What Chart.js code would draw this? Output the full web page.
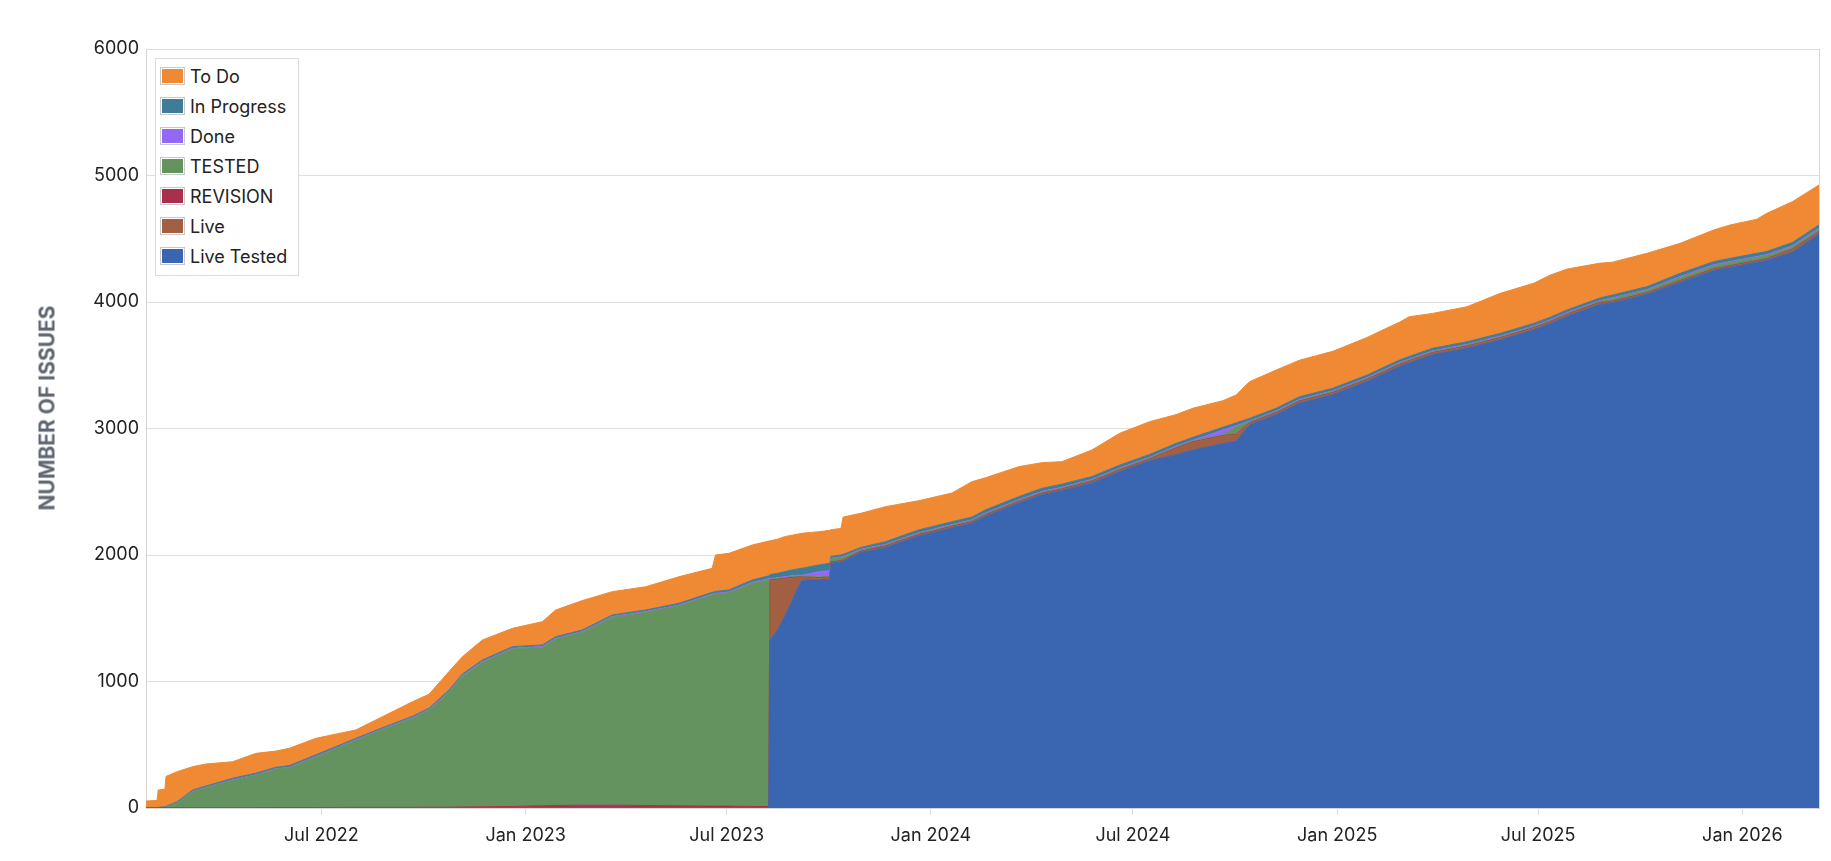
<!DOCTYPE html>
<html>
<head>
<meta charset="utf-8">
<title>Issues by status</title>
<script src="https://cdn.jsdelivr.net/npm/chart.js@4.4.1/dist/chart.umd.min.js"></script>
<style>
  html, body { margin: 0; padding: 0; background: #fff; overflow: hidden; }
  #wrap { position: relative; width: 1831px; height: 861px; font-family: Inter, "Noto Sans", sans-serif; }
  #issuesChart { position: absolute; left: 0; top: 0; }
  #yTitle {
    position: absolute; left: 47px; top: 408px;
    transform: translate(-50%, -50%) rotate(-90deg);
    white-space: nowrap; font-weight: 700; font-size: 21px; color: #5f6670;
  }
  #legend {
    position: absolute; left: 155px; top: 58px; width: 142px;
    padding: 2px 0 4px 0; background: #fff; border: 1px solid #dcdcdc;
  }
  .row { display: flex; align-items: center; height: 30px; padding-left: 4px; }
  .swatch {
    width: 21px; height: 14px; padding: 1px; margin-right: 5px;
    border: 1px solid #c9c9c9; background-clip: content-box;
  }
  .row span { font-size: 18px; color: #222; }
</style>
</head>
<body>
<div id="wrap">
  <canvas id="issuesChart" width="1831" height="861"></canvas>
  <div id="yTitle">NUMBER OF ISSUES</div>
  <div id="legend"></div>
</div>
<script>
// Snapshot dates (cumulative issue counts by status)
const dates = [
  '2022-01-24', '2022-02-03', '2022-02-04', '2022-02-10', '2022-02-11', '2022-02-21', '2022-03-07', '2022-03-19',
  '2022-04-12', '2022-05-03', '2022-05-21', '2022-06-02', '2022-06-26', '2022-08-01', '2022-08-28', '2022-09-21',
  '2022-10-06', '2022-10-24', '2022-11-05', '2022-11-23', '2022-12-20', '2023-01-16', '2023-01-28', '2023-02-21',
  '2023-03-20', '2023-04-19', '2023-05-19', '2023-06-18', '2023-06-21', '2023-07-03', '2023-07-24', '2023-08-08',
  '2023-08-09', '2023-08-16', '2023-08-22', '2023-08-28', '2023-09-03', '2023-09-07', '2023-09-22', '2023-10-02',
  '2023-10-03', '2023-10-12', '2023-10-14', '2023-10-30', '2023-11-21', '2023-12-21', '2024-01-20', '2024-02-07',
  '2024-02-19', '2024-03-20', '2024-04-10', '2024-04-28', '2024-05-25', '2024-06-19', '2024-07-16', '2024-08-09',
  '2024-08-24', '2024-09-20', '2024-10-02', '2024-10-14', '2024-11-07', '2024-11-28', '2024-12-28', '2025-01-28',
  '2025-02-11', '2025-02-26', '2025-03-07', '2025-03-28', '2025-04-28', '2025-05-28', '2025-06-27', '2025-07-12',
  '2025-07-27', '2025-08-25', '2025-09-06', '2025-10-07', '2025-11-06', '2025-12-06', '2025-12-21', '2026-01-14',
  '2026-01-23', '2026-02-15', '2026-03-11'
];

const liveTested = [
  0, 0, 0, 0, 0, 0, 0, 0,
  0, 0, 0, 0, 0, 0, 0, 0,
  0, 0, 0, 0, 0, 0, 0, 0,
  0, 0, 0, 0, 0, 0, 0, 0,
  1328, 1407, 1512, 1618, 1737, 1800, 1805, 1808,
  1935, 1945, 1950, 2020, 2060, 2150, 2215, 2252,
  2306, 2411, 2477, 2510, 2570, 2660, 2745, 2793,
  2830, 2881, 2899, 3030, 3110, 3201, 3268, 3373,
  3430, 3491, 3520, 3584, 3636, 3702, 3781, 3830,
  3887, 3980, 3995, 4061, 4157, 4249, 4275, 4315,
  4330, 4393, 4537
];
const live = [
  0, 0, 0, 0, 0, 0, 0, 0,
  0, 0, 0, 0, 0, 0, 0, 0,
  0, 0, 0, 0, 0, 0, 0, 0,
  0, 0, 0, 0, 0, 0, 0, 0,
  470, 396, 298, 198, 84, 21, 12, 12,
  6, 6, 6, 6, 8, 8, 8, 8,
  8, 8, 8, 8, 10, 10, 10, 50,
  60, 60, 50, 12, 12, 12, 12, 12,
  12, 12, 12, 12, 12, 12, 12, 12,
  12, 12, 8, 8, 8, 8, 8, 8,
  8, 20, 15
];
const revision = [
  0, 0, 0, 1, 1, 2, 2, 3,
  3, 3, 4, 4, 4, 5, 5, 5,
  6, 6, 8, 10, 12, 18, 20, 22,
  22, 20, 18, 15, 15, 15, 12, 12,
  5, 5, 5, 5, 5, 5, 5, 5,
  4, 4, 4, 4, 4, 4, 4, 4,
  4, 4, 4, 4, 4, 4, 4, 4,
  4, 4, 4, 4, 4, 4, 4, 4,
  4, 4, 4, 4, 4, 4, 4, 4,
  4, 4, 4, 4, 4, 4, 4, 4,
  4, 4, 4
];
const tested = [
  0, 1, 2, 3, 4, 38, 127, 158,
  216, 256, 304, 314, 399, 531, 625, 705,
  769, 910, 1034, 1142, 1245, 1253, 1316, 1367,
  1486, 1527, 1580, 1670, 1677, 1687, 1764, 1793,
  5, 5, 5, 6, 6, 6, 6, 6,
  25, 25, 25, 10, 8, 8, 8, 8,
  8, 8, 8, 8, 8, 8, 8, 8,
  8, 8, 60, 8, 8, 8, 8, 8,
  8, 8, 8, 8, 8, 8, 8, 8,
  8, 8, 20, 20, 25, 25, 25, 25,
  25, 20, 20
];
const done = [
  0, 0, 0, 1, 1, 2, 3, 3,
  4, 4, 4, 5, 5, 5, 5, 5,
  5, 5, 6, 6, 6, 6, 6, 6,
  6, 6, 6, 6, 6, 6, 8, 8,
  7, 7, 8, 8, 8, 8, 40, 45,
  5, 5, 5, 5, 5, 6, 6, 6,
  6, 6, 6, 6, 6, 6, 6, 6,
  6, 35, 10, 6, 6, 6, 6, 6,
  6, 6, 6, 6, 6, 6, 6, 6,
  6, 6, 6, 6, 8, 8, 8, 8,
  8, 8, 8
];
const inProgress = [
  0, 2, 3, 5, 6, 8, 10, 10,
  12, 12, 10, 12, 12, 10, 10, 10,
  10, 12, 12, 12, 12, 12, 12, 12,
  12, 12, 14, 14, 14, 15, 18, 22,
  30, 35, 40, 45, 50, 55, 53, 59,
  15, 15, 15, 15, 20, 22, 22, 22,
  24, 24, 24, 24, 22, 22, 22, 22,
  22, 22, 22, 20, 20, 20, 20, 20,
  20, 20, 20, 20, 20, 20, 20, 20,
  20, 20, 22, 22, 25, 25, 25, 25,
  25, 25, 25
];
const toDo = [
  55, 57, 137, 138, 238, 237, 185, 174,
  131, 157, 128, 137, 131, 66, 90, 115,
  110, 147, 136, 158, 145, 184, 211, 233,
  184, 184, 210, 190, 288, 290, 277, 275,
  267, 270, 277, 275, 275, 277, 263, 260,
  210, 210, 295, 270, 277, 231, 227, 280,
  254, 237, 203, 178, 210, 252, 259, 227,
  230, 210, 220, 290, 302, 289, 292, 297,
  299, 299, 314, 276, 277, 317, 317, 333,
  323, 276, 260, 264, 237, 250, 264, 269,
  301, 323, 316
];

const tickDates = ['2022-07-01', '2023-01-01', '2023-07-01', '2024-01-01', '2024-07-01', '2025-01-01', '2025-07-01', '2026-01-01'];
const monthNames = ['Jan', 'Feb', 'Mar', 'Apr', 'May', 'Jun', 'Jul', 'Aug', 'Sep', 'Oct', 'Nov', 'Dec'];

// bottom of the stack first
const series = [
  { label: 'Live Tested', data: liveTested, color: '#3a65b0' },
  { label: 'Live', data: live, color: '#a25f41' },
  { label: 'REVISION', data: revision, color: '#a8304c' },
  { label: 'TESTED', data: tested, color: '#65935f' },
  { label: 'Done', data: done, color: '#9468f6' },
  { label: 'In Progress', data: inProgress, color: '#3e7c98' },
  { label: 'To Do', data: toDo, color: '#ef8933' }
];

const toPoints = arr => dates.map((d, i) => ({ x: Date.parse(d), y: arr[i] }));

Chart.defaults.font.family = 'Inter, "Noto Sans", sans-serif';

// thin frame on the right side of the plot
const rightEdge = {
  id: 'rightEdge',
  afterDraw(chart) {
    const { ctx, chartArea } = chart;
    ctx.save();
    ctx.strokeStyle = '#d8d8d8';
    ctx.lineWidth = 1;
    ctx.beginPath();
    ctx.moveTo(Math.round(chartArea.right) + 0.5, chartArea.top);
    ctx.lineTo(Math.round(chartArea.right) + 0.5, chartArea.bottom);
    ctx.stroke();
    ctx.restore();
  }
};

const ctx = document.getElementById('issuesChart').getContext('2d');
const issuesChart = new Chart(ctx, {
  type: 'line',
  data: {
    datasets: series.map((s, i) => ({
      label: s.label,
      data: toPoints(s.data),
      backgroundColor: s.color,
      borderColor: s.color,
      borderWidth: 1,
      pointRadius: 0,
      tension: 0,
      fill: i === 0 ? 'origin' : '-1'
    }))
  },
  options: {
    responsive: false,
    animation: false,
    layout: { padding: { top: 49, right: 12, left: 0, bottom: 0 } },
    plugins: {
      legend: { display: false },
      tooltip: { enabled: false }
    },
    scales: {
      x: {
        type: 'linear',
        min: Date.parse('2022-01-24'),
        max: Date.parse('2026-03-11'),
        afterBuildTicks: axis => {
          axis.ticks = tickDates.map(d => ({ value: Date.parse(d) }));
        },
        afterFit: axis => { axis.height = 53; },
        ticks: {
          autoSkip: false,
          maxRotation: 0,
          padding: 10,
          color: '#222',
          font: { size: 18 },
          callback: value => {
            const d = new Date(value);
            return monthNames[d.getUTCMonth()] + ' ' + d.getUTCFullYear();
          }
        },
        grid: { drawOnChartArea: false, tickLength: 7, color: '#dcdcdc' },
        border: { color: '#d4d4d4' }
      },
      y: {
        stacked: true,
        min: 0,
        max: 6000,
        afterFit: axis => { axis.width = 146; },
        ticks: { stepSize: 1000, padding: 7, color: '#222', font: { size: 18 }, callback: v => String(v) },
        grid: { color: '#dedede', drawTicks: false },
        border: { color: '#d4d4d4' }
      }
    }
  },
  plugins: [rightEdge]
});

// legend box inside the plot, top of the stack first
const legendEl = document.getElementById('legend');
series.slice().reverse().forEach(s => {
  const row = document.createElement('div');
  row.className = 'row';
  const sw = document.createElement('div');
  sw.className = 'swatch';
  sw.style.backgroundColor = s.color;
  const txt = document.createElement('span');
  txt.textContent = s.label;
  row.appendChild(sw);
  row.appendChild(txt);
  legendEl.appendChild(row);
});
</script>
</body>
</html>
